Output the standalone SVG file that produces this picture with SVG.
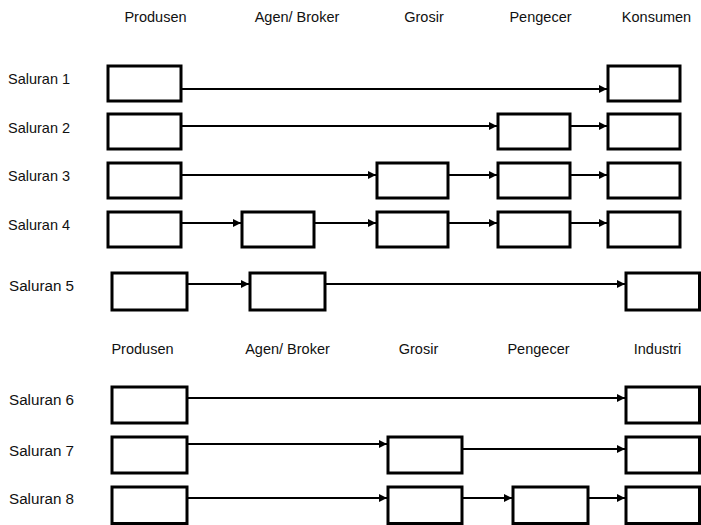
<svg xmlns="http://www.w3.org/2000/svg" width="701" height="525" viewBox="0 0 701 525">
  <style>
    .box { fill: #ffffff; stroke: #000000; stroke-width: 3; }
    .link { fill: none; stroke: #000000; stroke-width: 2.2; marker-end: url(#arrow); }
    .hdr { font-family: "Liberation Sans", Arial, sans-serif; font-size: 14.5px; fill: #111111; text-anchor: middle; }
    .lbl { font-family: "Liberation Sans", Arial, sans-serif; font-size: 14.5px; fill: #111111; }
    .lbl2 { font-family: "Liberation Sans", Arial, sans-serif; font-size: 15.2px; fill: #111111; }
  </style>
  <defs>
    <marker id="arrow" markerUnits="userSpaceOnUse" markerWidth="10" markerHeight="10" refX="9" refY="5" orient="auto">
      <path d="M1,1 L9,5 L1,9 Z" fill="#000000"/>
    </marker>
  </defs>

  <rect width="701" height="525" fill="#ffffff"/>

  <!-- column headings, consumer channels -->
  <g id="headings-top">
    <text class="hdr" x="155.5" y="22">Produsen</text>
    <text class="hdr" x="297" y="22">Agen/ Broker</text>
    <text class="hdr" x="424" y="22">Grosir</text>
    <text class="hdr" x="540.5" y="22">Pengecer</text>
    <text class="hdr" x="656.5" y="22">Konsumen</text>
  </g>

  <!-- column headings, industrial channels -->
  <g id="headings-bottom">
    <text class="hdr" x="142.5" y="354">Produsen</text>
    <text class="hdr" x="287.5" y="354">Agen/ Broker</text>
    <text class="hdr" x="418.5" y="354">Grosir</text>
    <text class="hdr" x="538.5" y="354">Pengecer</text>
    <text class="hdr" x="657.5" y="354">Industri</text>
  </g>

  <!-- row labels -->
  <g id="row-labels">
    <text class="lbl" x="8" y="84">Saluran 1</text>
    <text class="lbl" x="8" y="133">Saluran 2</text>
    <text class="lbl" x="8" y="181">Saluran 3</text>
    <text class="lbl" x="8" y="230">Saluran 4</text>
    <text class="lbl2" x="9" y="291">Saluran 5</text>
    <text class="lbl2" x="9" y="405">Saluran 6</text>
    <text class="lbl2" x="9" y="456">Saluran 7</text>
    <text class="lbl2" x="9" y="504">Saluran 8</text>
  </g>

  <!-- connectors -->
  <g id="connectors">
    <!-- Saluran 1 -->
    <line class="link" x1="182" y1="89" x2="607" y2="89"/>
    <!-- Saluran 2 -->
    <line class="link" x1="182" y1="126" x2="497" y2="126"/>
    <line class="link" x1="571" y1="126" x2="607" y2="126"/>
    <!-- Saluran 3 -->
    <line class="link" x1="182" y1="175" x2="376" y2="175"/>
    <line class="link" x1="449" y1="175" x2="497" y2="175"/>
    <line class="link" x1="571" y1="175" x2="607" y2="175"/>
    <!-- Saluran 4 -->
    <line class="link" x1="182" y1="223" x2="241" y2="223"/>
    <line class="link" x1="315" y1="223" x2="376" y2="223"/>
    <line class="link" x1="449" y1="223" x2="497" y2="223"/>
    <line class="link" x1="571" y1="223" x2="607" y2="223"/>
    <!-- Saluran 5 -->
    <line class="link" x1="188" y1="284" x2="249" y2="284"/>
    <line class="link" x1="326" y1="284" x2="625" y2="284"/>
    <!-- Saluran 6 -->
    <line class="link" x1="188" y1="398" x2="625" y2="398"/>
    <!-- Saluran 7 -->
    <line class="link" x1="188" y1="444" x2="387" y2="444"/>
    <line class="link" x1="463" y1="449" x2="625" y2="449"/>
    <!-- Saluran 8 -->
    <line class="link" x1="188" y1="498" x2="387" y2="498"/>
    <line class="link" x1="463" y1="498" x2="512" y2="498"/>
    <line class="link" x1="589" y1="498" x2="625" y2="498"/>
  </g>

  <!-- Saluran 1 -->
  <g id="s1-produsen"><rect class="box" x="108" y="66" width="73" height="35"/></g>
  <g id="s1-konsumen"><rect class="box" x="608" y="66" width="72" height="35"/></g>

  <!-- Saluran 2 -->
  <g id="s2-produsen"><rect class="box" x="108" y="114" width="73" height="35"/></g>
  <g id="s2-pengecer"><rect class="box" x="498" y="114" width="72" height="35"/></g>
  <g id="s2-konsumen"><rect class="box" x="608" y="114" width="72" height="35"/></g>

  <!-- Saluran 3 -->
  <g id="s3-produsen"><rect class="box" x="108" y="163" width="73" height="35"/></g>
  <g id="s3-grosir"><rect class="box" x="377" y="163" width="71" height="35"/></g>
  <g id="s3-pengecer"><rect class="box" x="498" y="163" width="72" height="35"/></g>
  <g id="s3-konsumen"><rect class="box" x="608" y="163" width="72" height="35"/></g>

  <!-- Saluran 4 -->
  <g id="s4-produsen"><rect class="box" x="108" y="212" width="73" height="35"/></g>
  <g id="s4-agen"><rect class="box" x="242" y="212" width="72" height="35"/></g>
  <g id="s4-grosir"><rect class="box" x="377" y="212" width="71" height="35"/></g>
  <g id="s4-pengecer"><rect class="box" x="498" y="212" width="72" height="35"/></g>
  <g id="s4-konsumen"><rect class="box" x="608" y="212" width="72" height="35"/></g>

  <!-- Saluran 5 -->
  <g id="s5-produsen"><rect class="box" x="112" y="273" width="75" height="37"/></g>
  <g id="s5-agen"><rect class="box" x="250" y="273" width="75" height="37"/></g>
  <g id="s5-industri"><rect class="box" x="626" y="273" width="73.5" height="37"/></g>

  <!-- Saluran 6 -->
  <g id="s6-produsen"><rect class="box" x="112" y="387" width="75" height="36"/></g>
  <g id="s6-industri"><rect class="box" x="626" y="387" width="73.5" height="36"/></g>

  <!-- Saluran 7 -->
  <g id="s7-produsen"><rect class="box" x="112" y="437" width="75" height="36"/></g>
  <g id="s7-grosir"><rect class="box" x="388" y="437" width="74" height="36"/></g>
  <g id="s7-industri"><rect class="box" x="626" y="437" width="73.5" height="36"/></g>

  <!-- Saluran 8 -->
  <g id="s8-produsen"><rect class="box" x="112" y="487" width="75" height="36.5"/></g>
  <g id="s8-grosir"><rect class="box" x="388" y="487" width="74" height="36.5"/></g>
  <g id="s8-pengecer"><rect class="box" x="513" y="487" width="75" height="36.5"/></g>
  <g id="s8-industri"><rect class="box" x="626" y="487" width="73.5" height="36.5"/></g>
</svg>
